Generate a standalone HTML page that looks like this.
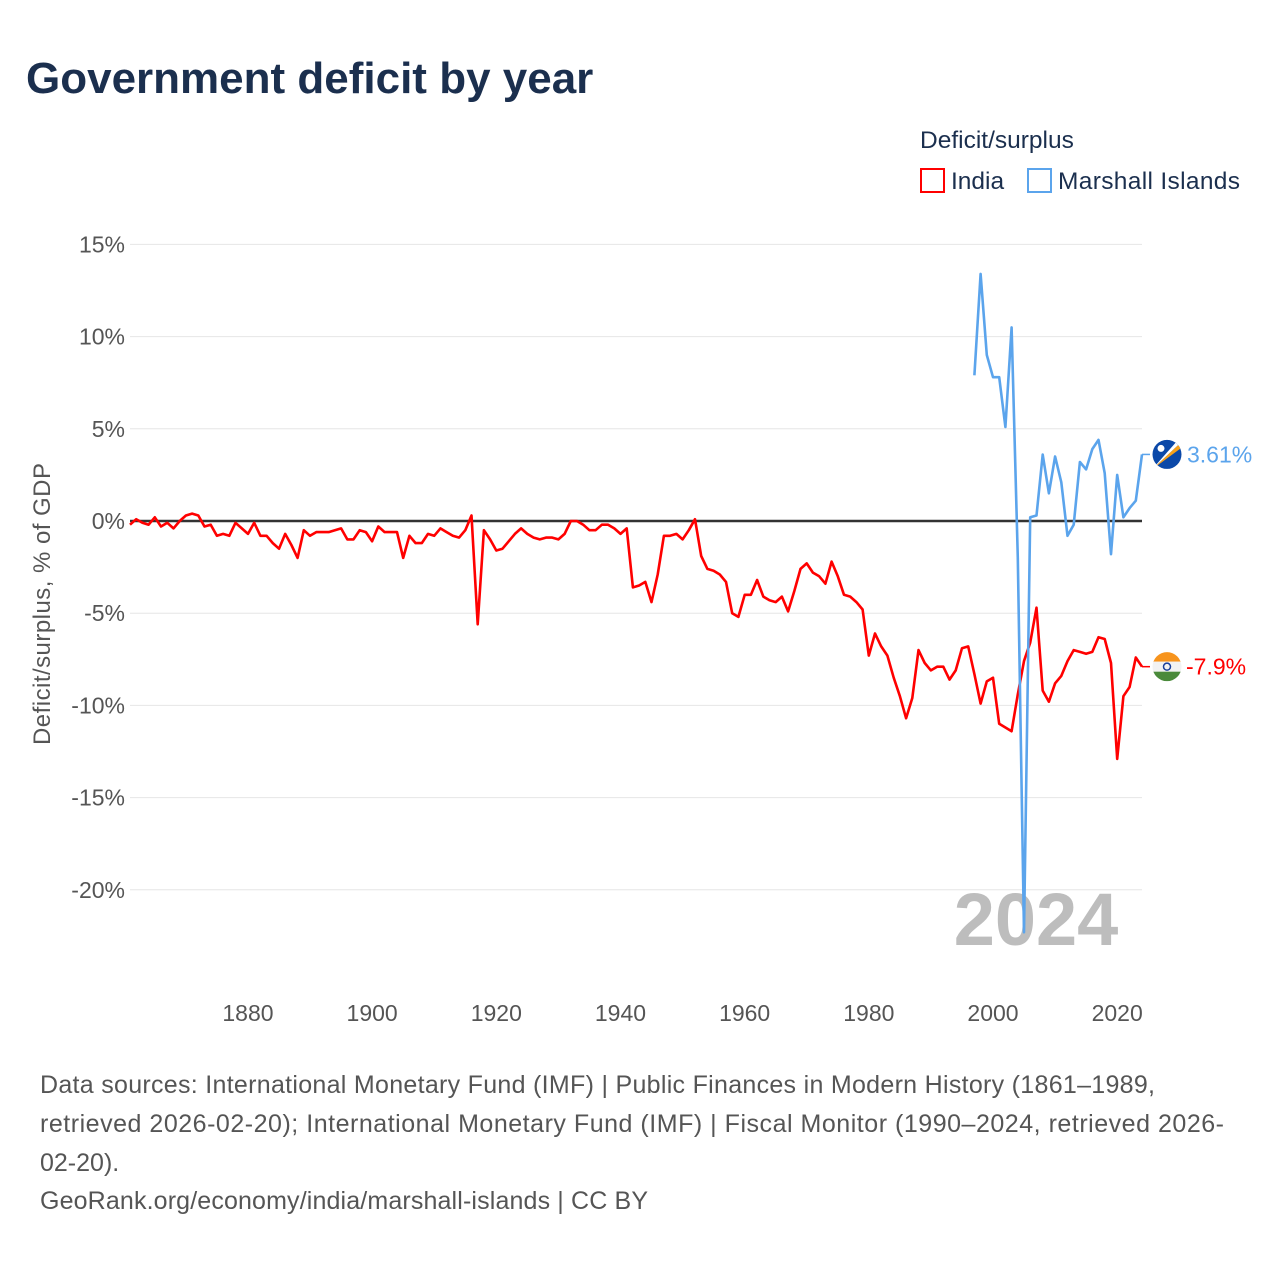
<!DOCTYPE html>
<html><head><meta charset="utf-8">
<style>
html,body{margin:0;padding:0;background:#fff;}
body{width:1280px;height:1280px;position:relative;overflow:hidden;font-family:"Liberation Sans",sans-serif;}
svg{position:absolute;left:0;top:0;}
</style></head>
<body>
<svg id="chart" width="1280" height="1280">
  <text x="26" y="93" font-size="44" font-weight="bold" fill="#1b2f4e">Government deficit by year</text>
  <text x="920" y="148" font-size="24.5" fill="#1b2f4e">Deficit/surplus</text>
  <g>
    <rect x="921" y="169" width="23" height="23" fill="none" stroke="#ff0000" stroke-width="2"/>
    <text x="951" y="189" font-size="24.5" fill="#1b2f4e">India</text>
  </g>
  <g>
    <rect x="1028" y="169" width="23" height="23" fill="none" stroke="#5ba4ec" stroke-width="2"/>
    <text x="1058" y="189" font-size="24.5" fill="#1b2f4e" textLength="182">Marshall Islands</text>
  </g>
  <g id="grid"></g>
  <g id="yticks"></g>
  <g id="xticks"></g>
  <text transform="translate(50,604) rotate(-90)" text-anchor="middle" font-size="24" fill="#555" textLength="282">Deficit/surplus, % of GDP</text>
  <text x="1036" y="945" text-anchor="middle" font-size="74" font-weight="bold" fill="#bdbdbd">2024</text>
  <line id="zero" stroke="#333" stroke-width="2.5"/>
  <g id="series"></g>
  <g id="labels"></g>
  <g font-size="25" fill="#555">
    <text x="40" y="1093" textLength="1115">Data sources: International Monetary Fund (IMF) | Public Finances in Modern History (1861–1989,</text>
    <text x="40" y="1132" textLength="1184">retrieved 2026-02-20); International Monetary Fund (IMF) | Fiscal Monitor (1990–2024, retrieved 2026-</text>
    <text x="40" y="1171">02-20).</text>
    <text x="40" y="1209" textLength="608">GeoRank.org/economy/india/marshall-islands | CC BY</text>
  </g>
</svg>
<script>
const indiaStart = 1861;
const indiaValues = [-0.2,0.1,-0.1,-0.2,0.2,-0.3,-0.1,-0.4,0,0.3,0.4,0.3,-0.3,-0.2,-0.8,-0.7,-0.8,-0.1,-0.4,-0.7,
-0.1,-0.8,-0.8,-1.2,-1.5,-0.7,-1.3,-2.0,-0.5,-0.8,-0.6,-0.6,-0.6,-0.5,-0.4,-1.0,-1.0,-0.5,-0.6,-1.1,
-0.3,-0.6,-0.6,-0.6,-2.0,-0.8,-1.2,-1.2,-0.7,-0.8,-0.4,-0.6,-0.8,-0.9,-0.5,0.3,-5.6,-0.5,-1.0,-1.6,
-1.5,-1.1,-0.7,-0.4,-0.7,-0.9,-1.0,-0.9,-0.9,-1.0,-0.7,0.0,0.0,-0.2,-0.5,-0.5,-0.2,-0.2,-0.4,-0.7,
-0.4,-3.6,-3.5,-3.3,-4.4,-2.9,-0.8,-0.8,-0.7,-1.0,-0.5,0.1,-1.9,-2.6,-2.7,-2.9,-3.3,-5.0,-5.2,-4.0,
-4.0,-3.2,-4.1,-4.3,-4.4,-4.1,-4.9,-3.8,-2.6,-2.3,-2.8,-3.0,-3.4,-2.2,-3.0,-4.0,-4.1,-4.4,-4.8,-7.3,
-6.1,-6.8,-7.3,-8.5,-9.5,-10.7,-9.6,-7.0,-7.7,-8.1,-7.9,-7.9,-8.6,-8.1,-6.9,-6.8,-8.3,-9.9,-8.7,-8.5,
-11.0,-11.2,-11.4,-9.4,-7.6,-6.6,-4.7,-9.2,-9.8,-8.8,-8.4,-7.6,-7.0,-7.1,-7.2,-7.1,-6.3,-6.4,-7.7,-12.9,
-9.5,-9.0,-7.4,-7.9];
const mhStart = 1997;
const mhValues = [7.9,13.4,9.0,7.8,7.8,5.1,10.5,-2.0,-22.3,0.2,0.3,3.6,1.5,3.5,2.1,-0.8,-0.2,3.2,2.8,3.9,4.4,2.6,-1.8,2.5,0.2,0.7,1.1,3.61];
const yTicks = [15,10,5,0,-5,-10,-15,-20];
const xTicks = [1880,1900,1920,1940,1960,1980,2000,2020];
const indiaLabel = "-7.9%";
const mhLabel = "3.61%";

const NS = "http://www.w3.org/2000/svg";
const X0 = 130, X1 = 1142, Y0YEAR = 1861, Y1YEAR = 2024;
function xs(yr){ return X0 + (yr - Y0YEAR) * (X1 - X0) / (Y1YEAR - Y0YEAR); }
function ys(v){ return 521 - v * 18.44; }
function mk(tag, attrs, parent){ const e=document.createElementNS(NS,tag); for(const k in attrs) e.setAttribute(k,attrs[k]); parent.appendChild(e); return e; }

const grid=document.getElementById('grid'), yt=document.getElementById('yticks'), xt=document.getElementById('xticks');
yTicks.forEach(v=>{
  const l=mk('line',{x1:X0,x2:X1,y1:ys(v),y2:ys(v),stroke:'#e6e6e6','stroke-width':1},grid);
  
  
  const t=mk('text',{x:125,y:ys(v)+8,'text-anchor':'end','font-size':23,fill:'#555'},yt);
  t.textContent=v+'%';
  
  
});
xTicks.forEach(yr=>{
  const t=mk('text',{x:xs(yr),y:1021,'text-anchor':'middle','font-size':23,fill:'#555'},xt);
  t.textContent=yr;
  
  
});
const z=document.getElementById('zero');
z.setAttribute('x1',X0); z.setAttribute('x2',X1); z.setAttribute('y1',ys(0)); z.setAttribute('y2',ys(0));

const ser=document.getElementById('series');
function line(start, vals, color, name){
  const d=vals.map((v,i)=>(i?'L':'M')+xs(start+i).toFixed(1)+','+ys(v).toFixed(1)).join(' ');
  const p=mk('path',{d:d,fill:'none',stroke:color,'stroke-width':2.6,'stroke-linejoin':'round'},ser);
  
  
  const last=ys(vals[vals.length-1]);
  const c=mk('line',{x1:X1,x2:X1+8,y1:last,y2:last,stroke:color,'stroke-width':1.5},ser);
  
  
}
line(indiaStart, indiaValues, '#ff0000', 'india-line');
line(mhStart, mhValues, '#5ba4ec', 'marshall-islands-line');

const lab=document.getElementById('labels');
const mhY=ys(mhValues[mhValues.length-1]);
const cx=1167;
const defs=mk('defs',{},lab);
const cp1=mk('clipPath',{id:'c1'},defs); mk('circle',{cx:cx,cy:mhY,r:14.5},cp1);
const cp2=mk('clipPath',{id:'c2'},defs); mk('circle',{cx:cx,cy:ys(indiaValues[indiaValues.length-1]),r:14.5},cp2);
const mg=mk('g',{'clip-path':'url(#c1)'},lab);


mk('rect',{x:cx-15,y:mhY-15,width:30,height:30,fill:'#0b48a8'},mg);
mk('polygon',{points:`${cx-15},${mhY+15} ${cx+15},${mhY-13} ${cx+15},${mhY-7}`,fill:'#f7a11a'},mg);
mk('polygon',{points:`${cx-15},${mhY+15} ${cx+15},${mhY-19} ${cx+15},${mhY-13}`,fill:'#fff'},mg);
mk('circle',{cx:cx-6,cy:mhY-6,r:3.5,fill:'#fff'},mg);
const mt=mk('text',{x:1187,y:mhY+8,'font-size':23,fill:'#5ba4ec'},lab);
mt.textContent=mhLabel;


const iy=ys(indiaValues[indiaValues.length-1]);
const ig=mk('g',{'clip-path':'url(#c2)'},lab);


mk('rect',{x:cx-15,y:iy-15,width:30,height:10,fill:'#f7941d'},ig);
mk('rect',{x:cx-15,y:iy-5,width:30,height:10,fill:'#f2f2f2'},ig);
mk('rect',{x:cx-15,y:iy+5,width:30,height:10,fill:'#4a8a3a'},ig);
mk('circle',{cx:cx,cy:iy,r:3.5,fill:'none',stroke:'#1a3f9a','stroke-width':1.5},ig);
const it=mk('text',{x:1186,y:iy+8,'font-size':23,fill:'#ff0000'},lab);
it.textContent=indiaLabel;


</script>
</body></html>
